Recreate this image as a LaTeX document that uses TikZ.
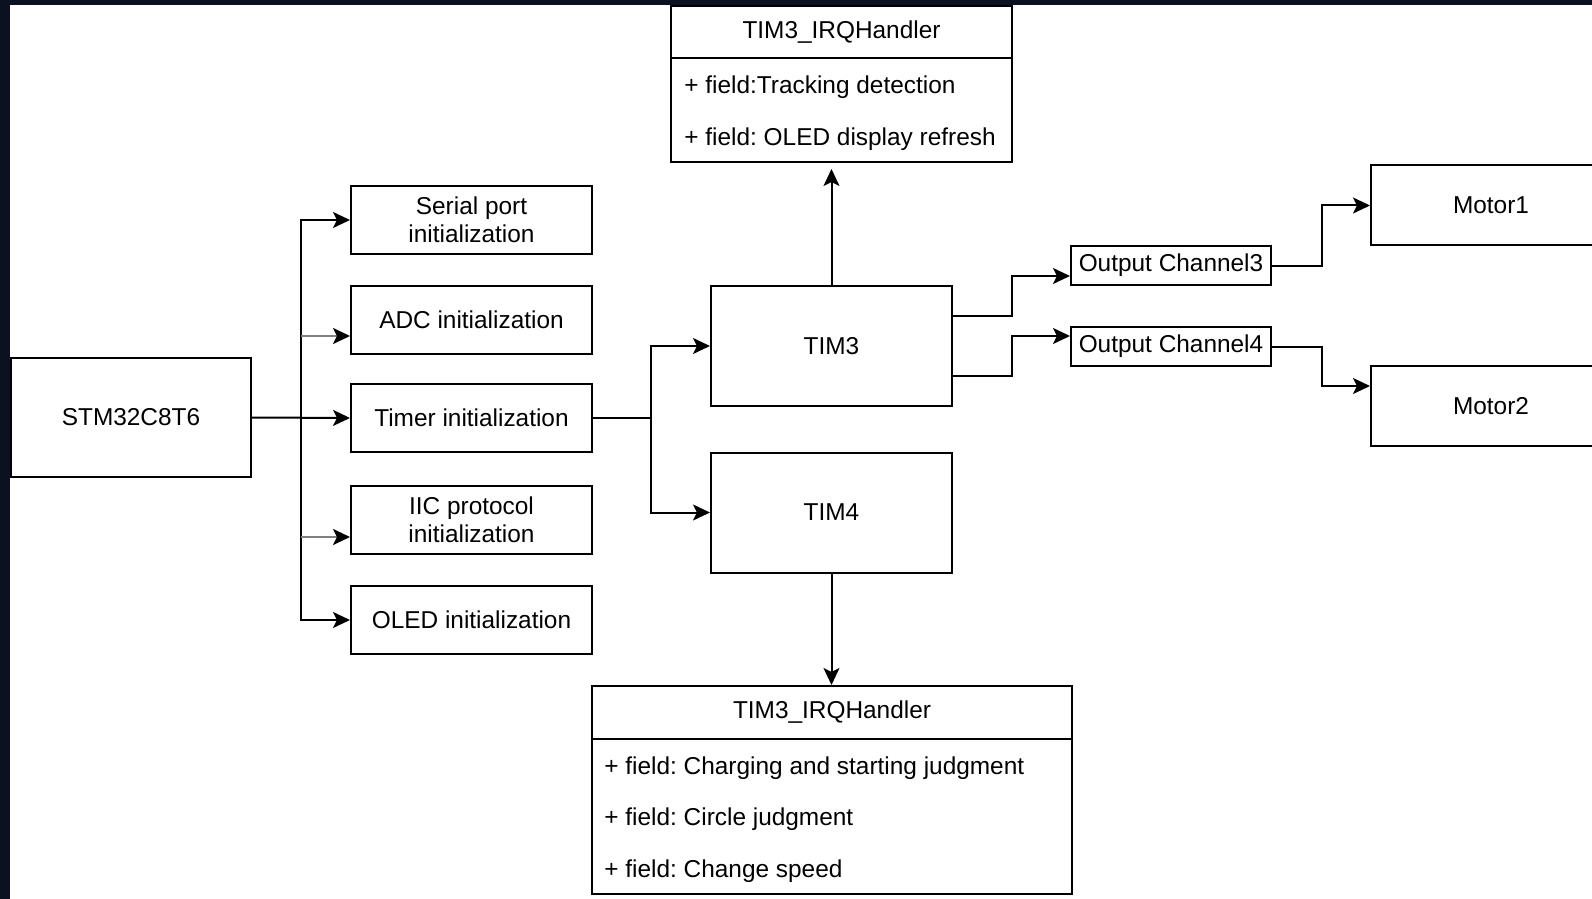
\documentclass[tikz,border=0pt]{standalone}
\usepackage{fontspec}
\setmainfont{Liberation Sans}
\frenchspacing
\usetikzlibrary{arrows.meta}
\definecolor{backdrop}{HTML}{0C1122}
\tikzset{box/.style = {draw, line width = 1pt, inner sep = 0, align = center, font = \fontsize{12.2}{14.25}\selectfont}}
\tikzset{initbox/.style = {box, minimum width = 120.5pt, minimum height = 34pt}}
\tikzset{timbox/.style = {box, minimum width = 120.5pt, minimum height = 60pt}}
\tikzset{chanbox/.style = {box, minimum width = 100pt, minimum height = 19.5pt}}
\tikzset{motorbox/.style = {box, minimum width = 120pt, minimum height = 40pt}}
\tikzset{fieldtext/.style = {inner sep = 0, anchor = west, text height = 8.7pt, text depth = 0pt, font = \fontsize{12.2}{14.25}\selectfont}}
\tikzset{wire/.style = {line width = 1pt}}
\tikzset{arr/.style = {wire, -{Stealth[length = 8.5pt, width = 8pt, inset = 2pt]}}}
\tikzset{stub/.style = {line width = 1.3pt, draw = gray, -{Stealth[length = 8.5pt, width = 8pt, inset = 2pt, black]}}}

\begin{document}
\begin{tikzpicture}[x = 0.5pt, y = -0.5pt]

    \useasboundingbox (0, 0) rectangle (1592, 899);
    \fill [backdrop] (0, 0) rectangle (1592, 899);
    \fill [white] (10, 5) rectangle (1592, 899);
    \clip (0, 0) rectangle (1592, 899);

    \node [box, minimum width = 120pt, minimum height = 59.5pt] (stm) at (131, 417.5) {STM32C8T6};

    \node [initbox] (serial) at (471.5, 220) {Serial port\\initialization};
    \node [initbox] (adc) at (471.5, 320) {ADC initialization};
    \node [initbox] (timer) at (471.5, 418) {Timer initialization};
    \node [initbox] (iic) at (471.5, 520) {IIC protocol\\initialization};
    \node [initbox] (oled) at (471.5, 620) {OLED initialization};

    \node [timbox] (tim3) at (831.5, 346) {TIM3};
    \node [timbox] (tim4) at (831.5, 512.5) {TIM4};

    \node [box, minimum width = 170.5pt, minimum height = 26pt] (irqa) at (841.5, 32) {TIM3\_IRQHandler};
    \node [box, minimum width = 170.5pt, minimum height = 52pt] (irqabody) at (841.5, 110) {};
    \node [fieldtext] (fa1) at (684, 85) {+ field:Tracking detection};
    \node [fieldtext] (fa2) at (684, 137) {+ field: OLED display refresh};

    \node [box, minimum width = 240pt, minimum height = 26.5pt] (irqb) at (832, 712.5) {TIM3\_IRQHandler};
    \node [box, minimum width = 240pt, minimum height = 77.5pt] (irqbbody) at (832, 816.5) {};
    \node [fieldtext] (fb1) at (604, 766) {+ field: Charging and starting judgment};
    \node [fieldtext] (fb2) at (604, 817) {+ field: Circle judgment};
    \node [fieldtext] (fb3) at (604, 869) {+ field: Change speed};

    \node [chanbox] (oc3) at (1171, 265.5) {Output Channel3};
    \node [chanbox] (oc4) at (1171, 346.5) {Output Channel4};

    \node [motorbox] (motor1) at (1491, 205.5) {Motor1};
    \node [motorbox] (motor2) at (1491, 406) {Motor2};

    \coordinate (bus) at (301, 417.5);
    \coordinate (adcin) at ([yshift = -8pt]adc.west);
    \coordinate (iicin) at ([yshift = -8.5pt]iic.west);
    \coordinate (split) at (651, 418);
    \coordinate (oc3in) at ([yshift = -5.25pt]oc3.west);
    \coordinate (oc4in) at ([yshift = 5.25pt]oc4.west);
    \coordinate (m2in) at ([yshift = 10pt]motor2.west);

    \draw [arr] (stm.east) -- (timer.west);
    \draw [arr] (bus) |- (serial.west);
    \draw [arr] (bus) |- (oled.west);
    \draw [stub] (bus |- adcin) -- (adcin);
    \draw [stub] (bus |- iicin) -- (iicin);
    \draw [wire] (timer.east) -- (split);
    \draw [arr] (split) |- (tim3.west);
    \draw [arr] (split) |- (tim4.west);
    \draw [arr, shorten > = 3pt] (tim3.north) -- (tim3.north |- irqabody.south);
    \draw [arr] (tim4.south) -- (tim4.south |- irqb.north);
    \draw [arr] ([yshift = 15pt]tim3.east) -- ++(59, 0) |- (oc3in);
    \draw [arr] ([yshift = -15pt]tim3.east) -- ++(59, 0) |- (oc4in);
    \draw [arr] (oc3.east) -- ++(50, 0) |- (motor1.west);
    \draw [arr] (oc4.east) -- ++(50, 0) |- (m2in);
  \end{tikzpicture}
\end{document}
